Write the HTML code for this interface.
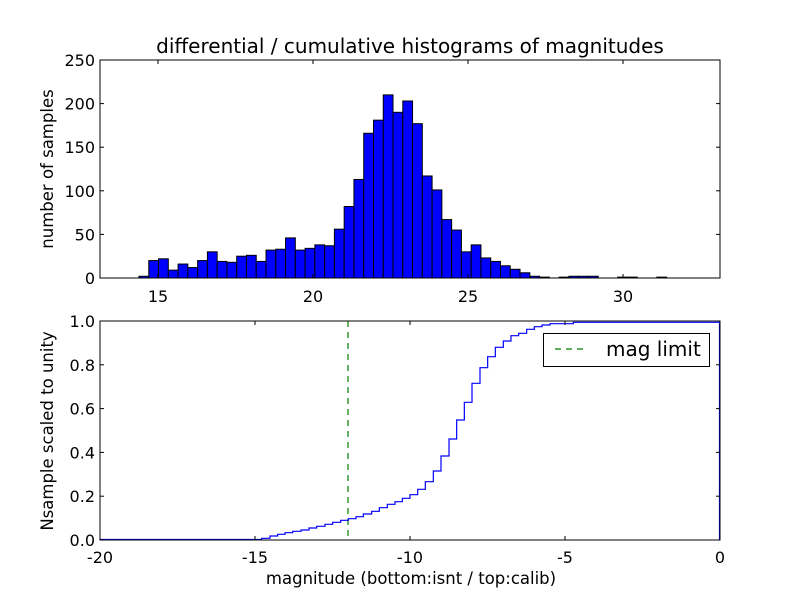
<!DOCTYPE html>
<html><head><meta charset="utf-8"><style>
body{margin:0;background:#fff}
svg text{font-family:"DejaVu Sans","Liberation Sans",sans-serif;fill:#000}
</style></head><body>
<svg id="s" width="800" height="600" xmlns="http://www.w3.org/2000/svg">
<rect width="800" height="600" fill="#fff"/>
<g id="bars"></g>
<rect x="100" y="60" width="620" height="218" fill="none" stroke="#000" stroke-width="1"/>
<g id="tt"></g>
<text x="410" y="53" font-size="20" text-anchor="middle">differential / cumulative histograms of magnitudes</text>
<text x="53" y="169" font-size="16.5" text-anchor="middle" transform="rotate(-90 53 169)">number of samples</text>
<line x1="348" y1="321" x2="348" y2="540" stroke="#008000" stroke-width="1.2" stroke-dasharray="6,5"/>
<path id="cdf" fill="none" stroke="#0000ff" stroke-width="1.2"/>
<line x1="719.5" y1="321" x2="719.5" y2="540" stroke="#0000ff" stroke-width="1.2"/>
<rect x="100" y="321" width="620" height="219" fill="none" stroke="#000" stroke-width="1"/>
<g id="bt"></g>
<text x="53" y="431" font-size="16.5" text-anchor="middle" transform="rotate(-90 53 431)">Nsample scaled to unity</text>
<text x="411" y="584" font-size="16.5" text-anchor="middle">magnitude (bottom:isnt / top:calib)</text>
<rect x="543.5" y="333.5" width="166" height="33" fill="#fff" stroke="#000"/>
<line x1="555" y1="349" x2="585" y2="349" stroke="#008000" stroke-width="1.2" stroke-dasharray="6,5"/>
<text x="606" y="356" font-size="20">mag limit</text>
</svg>
<script>
var NS="http://www.w3.org/2000/svg";
function el(p,t,a,txt){var e=document.createElementNS(NS,t);for(var k in a)e.setAttribute(k,a[k]);if(txt!=null)e.textContent=txt;document.getElementById(p).appendChild(e);}
var h=[2,20,22,9,16,12,20,30,19,18,25,26,19,32,33,46,32,34,38,37,56,82,113,166,181,210,190,203,177,117,101,67,55,30,38,23,19,14,10,6,2,1,0,1,2,2,2,0,0,1,1,0,0,1];
var x0=139,w=9.77;
h.forEach(function(v,i){if(v<=0)return;var hh=v*0.872;el("bars","rect",{x:x0+i*w,y:278-hh,width:w,height:hh,fill:"#0000ff",stroke:"#000","stroke-width":1});});
[0,50,100,150,200,250].forEach(function(v){var y=278-v*0.872;el("tt","line",{x1:100,y1:y,x2:104,y2:y,stroke:"#000"});el("tt","line",{x1:716,y1:y,x2:720,y2:y,stroke:"#000"});el("tt","text",{x:95,y:y+6,"font-size":16,"text-anchor":"end"},v);});
[15,20,25,30].forEach(function(v){var x=158+(v-15)*31;el("tt","line",{x1:x,y1:278,x2:x,y2:274,stroke:"#000"});el("tt","line",{x1:x,y1:60,x2:x,y2:64,stroke:"#000"});el("tt","text",{x:x,y:302,"font-size":16,"text-anchor":"middle"},v);});
[0,0.2,0.4,0.6,0.8,1.0].forEach(function(v){var y=540-v*219;el("bt","line",{x1:100,y1:y,x2:104,y2:y,stroke:"#000"});el("bt","line",{x1:716,y1:y,x2:720,y2:y,stroke:"#000"});el("bt","text",{x:95,y:y+6,"font-size":16,"text-anchor":"end"},v.toFixed(1));});
[-20,-15,-10,-5,0].forEach(function(v){var x=720+v*31;el("bt","line",{x1:x,y1:540,x2:x,y2:536,stroke:"#000"});el("bt","line",{x1:x,y1:321,x2:x,y2:325,stroke:"#000"});el("bt","text",{x:x,y:563,"font-size":16,"text-anchor":"middle"},v);});
var zx=[65,90,113,135,158,183,207,230,255,278,302,325,348,370,395,418,442,465,487,510,533,556,580,603,627,650,673,696,720,743,766,790,813,836,860,883,906,930,1000];
var zy=[655,648,643,638,634,630,624,619,613,607,601,596,590,582,574,563,553,545,535,524,508,485,453,408,357,300,247,190,143,110,82,63,47,40,28,20,15,11,7];
var d="M100,539.5 L"+(240+zx[0]/3)+",539.5";
for(var i=0;i<zx.length;i++){var x=240+zx[i]/3,y=320+zy[i]/3;var xn=i+1<zx.length?240+zx[i+1]/3:719;d+=" L"+x+","+y+" L"+xn+","+y;}
d+=" L719,321.5";
document.getElementById("cdf").setAttribute("d",d);
</script>
</body></html>
